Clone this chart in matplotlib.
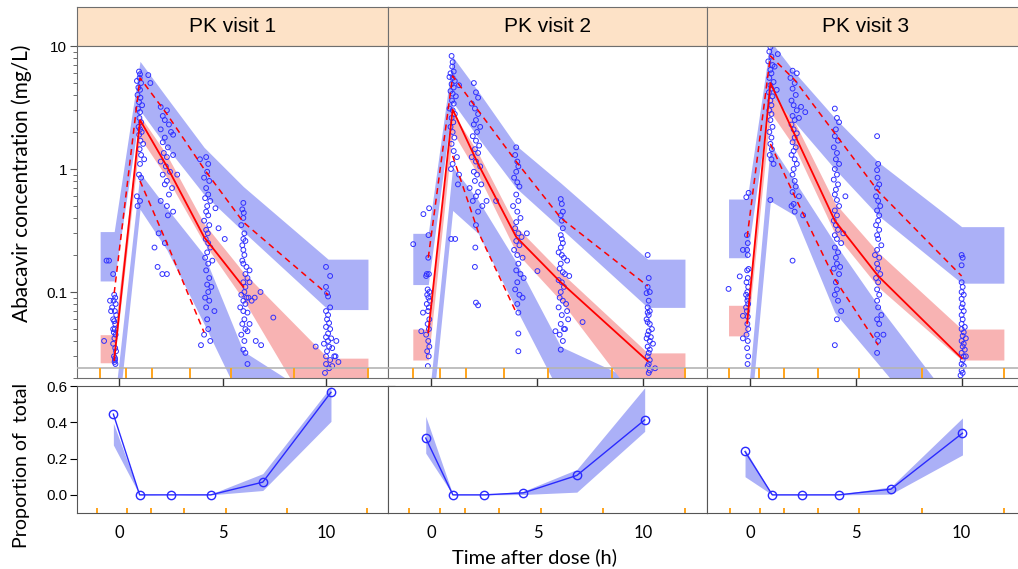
import numpy as np
import matplotlib.pyplot as plt
from matplotlib.ticker import FixedLocator, LogLocator, NullFormatter

plt.rcParams['font.family'] = ['Liberation Sans', 'DejaVu Sans']
nan = np.nan

titles = ['PK visit 1', 'PK visit 2', 'PK visit 3']

# ---------------- PK visit 1 ----------------
v1_mid = [-0.25, 1.0, 2.3, 4.1, 6.0, 10.1]
v1_bins = [-0.93, 0.33, 1.6, 3.41, 5.41, 8.47, 12.03]
v1_obs95 = [0.098, 5.5, 2.8, 1.0, 0.37, 0.095]
v1_obs50 = [0.028, 2.5, 1.05, 0.28, 0.11, nan]
v1_obs5 = [nan, 0.8, 0.25, 0.047, nan, nan]
v1_hi95 = [0.31, 7.5, 3.8, 1.5, 0.72, 0.185]
v1_lo95 = [0.123, 3.0, 1.5, 0.62, 0.31, 0.072]
v1_hi50 = [0.045, 2.7, 1.3, 0.36, 0.145, 0.029]
v1_lo50 = [0.0266, 1.8, 0.85, 0.25, 0.087, 0.006]
v1_hi5 = [0.012, 0.93, 0.48, 0.2, 0.033, 0.012]
v1_lo5 = [0.005, 0.47, 0.22, 0.055, 0.012, 0.003]
v1_time = [-0.62, -0.5, -0.3, -0.25, -0.2, -0.28, -0.18, -0.35, -0.22, -0.15, -0.3, -0.25, -0.2, -0.22, -0.27,
           -0.18, -0.24, -0.3, -0.2, -0.16, -0.26, -0.21, -0.74, -0.45, -0.4, -0.3, -0.19, -0.23, -0.21,
           0.95, 1.0, 0.98, 0.85, 1.4, 1.05, 0.92, 1.0, 0.88, 1.02, 0.95, 1.1, 0.9, 1.0, 0.97, 1.05, 0.93, 1.0,
           1.08, 0.96, 1.02, 1.15, 0.98, 1.05, 1.2, 1.0, 0.95, 1.05, 0.85, 0.88, 1.0, 1.5,
           2.0, 2.3, 2.1, 2.2, 2.4, 2.0, 2.5, 2.2, 2.1, 2.35, 2.6, 2.15, 2.3, 2.0, 2.25, 2.45, 2.1, 2.3, 2.2,
           2.55, 2.4, 2.0, 2.3, 2.6, 2.35, 1.9, 2.2, 1.85, 2.3, 2.8, 2.6, 1.7, 2.08,
           4.2, 4.3, 4.25, 4.1, 4.35, 4.2, 4.3, 4.15, 4.4, 4.25, 4.2, 4.3, 4.1, 4.35, 4.2, 4.28, 4.18, 4.3, 4.4,
           4.25, 4.15, 4.3, 4.5, 4.2, 4.35, 4.25, 4.45, 4.3, 4.15, 4.35, 4.2, 4.6, 4.25, 4.3, 4.1, 3.95, 4.4,
           4.8, 5.1, 4.65, 3.9,
           6.0, 5.95, 6.02, 6.0, 5.9, 6.05, 6.0, 5.95, 6.1, 6.0, 6.05, 5.95, 6.0, 6.15, 6.3, 6.1, 6.2, 6.0, 6.3,
           6.1, 6.05, 5.9, 6.15, 6.25, 6.0, 6.4, 6.1, 5.85, 6.0, 6.2, 6.05, 5.95, 6.3, 6.1, 5.9, 6.2, 6.05, 6.0,
           6.55, 7.45, 6.6, 6.2, 6.1, 6.83, 6.86,
           10.0, 10.2, 10.0, 10.05, 10.1, 10.2, 10.0, 10.1, 10.05, 10.15, 10.0, 10.2, 10.1, 10.0, 10.25, 10.5,
           10.1, 9.9, 10.15, 10.3, 10.05, 9.5, 10.0, 10.4, 10.2, 10.6, 10.0, 10.3, 10.15, 10.46, 9.95]
v1_conc = [0.18, 0.18, 0.14, 0.095, 0.09, 0.085, 0.08, 0.075, 0.07, 0.065, 0.06, 0.058, 0.055, 0.05, 0.047,
           0.045, 0.042, 0.038, 0.035, 0.033, 0.03, 0.028, 0.04, 0.085, 0.07, 0.05, 0.026, 0.027, 0.029,
           6.2, 5.9, 5.5, 5.2, 5.8, 5.0, 4.6, 4.4, 4.0, 3.8, 3.5, 3.3, 3.1, 2.9, 2.6, 2.4, 2.2, 2.1,
           2.0, 1.9, 1.7, 1.6, 1.45, 1.3, 1.2, 1.1, 0.9, 0.85, 0.6, 0.5, 0.55, 5.0,
           3.2, 3.0, 2.7, 2.5, 2.3, 2.1, 2.0, 1.8, 1.65, 1.5, 1.9, 1.35, 1.25, 1.15, 1.05, 0.95, 0.9, 0.8, 0.75,
           0.7, 0.62, 0.55, 0.5, 0.45, 0.42, 0.3, 0.25, 0.16, 0.14, 0.9, 1.3, 0.23, 0.14,
           1.25, 1.1, 0.95, 0.85, 0.8, 0.7, 0.62, 0.58, 0.55, 0.5, 0.45, 0.42, 0.38, 0.35, 0.32, 0.3, 0.27, 0.25,
           0.23, 0.21, 0.19, 0.17, 0.18, 0.15, 0.13, 0.115, 0.11, 0.1, 0.09, 0.085, 0.075, 0.07, 0.06, 0.05,
           0.045, 0.037, 0.04, 0.33, 0.27, 0.48, 1.2,
           0.53, 0.47, 0.44, 0.4, 0.35, 0.3, 0.27, 0.24, 0.26, 0.22, 0.2, 0.18, 0.17, 0.16, 0.15, 0.14, 0.13,
           0.12, 0.12, 0.11, 0.1, 0.095, 0.09, 0.09, 0.085, 0.085, 0.08, 0.075, 0.07, 0.068, 0.06, 0.055,
           0.055, 0.05, 0.045, 0.048, 0.04, 0.034, 0.09, 0.062, 0.04, 0.026, 0.032, 0.1, 0.037,
           0.16, 0.135, 0.11, 0.098, 0.092, 0.075, 0.07, 0.065, 0.06, 0.056, 0.052, 0.05, 0.046, 0.043, 0.042,
           0.04, 0.04, 0.038, 0.036, 0.035, 0.033, 0.036, 0.03, 0.03, 0.028, 0.027, 0.026, 0.025, 0.024,
           0.03, 0.022]
v1_blq_t = [-0.29, 0.98, 2.5, 4.42, 6.94, 10.24]
v1_blq = [0.445, 0.0, 0.0, 0.0, 0.07, 0.565]
v1_blq_lo = [0.275, 0.0, 0.0, 0.0, 0.024, 0.405]
v1_blq_hi = [0.396, 0.003, 0.0, 0.004, 0.117, 0.597]
v1_blq_bins = [-1.1, 0.36, 1.55, 3.14, 5.14, 8.1, 12.0]

# ---------------- PK visit 2 ----------------
v2_mid = [-0.15, 1.0, 2.2, 4.0, 6.1, 10.2]
v2_bins = [-0.88, 0.38, 1.64, 3.44, 5.49, 8.53, 11.96]
v2_obs95 = [0.19, 5.7, 3.0, 1.15, 0.4, 0.112]
v2_obs50 = [0.047, 3.05, 1.1, 0.28, 0.12, 0.0275]
v2_obs5 = [nan, 1.28, 0.31, 0.068, nan, nan]
v2_hi95 = [0.30, 8.2, 4.3, 1.55, 0.77, 0.185]
v2_lo95 = [0.115, 3.5, 1.8, 0.7, 0.33, 0.075]
v2_hi50 = [0.05, 2.9, 1.35, 0.34, 0.145, 0.032]
v2_lo50 = [0.028, 2.0, 0.9, 0.21, 0.085, 0.010]
v2_hi5 = [0.012, 1.04, 0.56, 0.175, 0.036, 0.017]
v2_lo5 = [0.005, 0.46, 0.30, 0.073, 0.0145, 0.004]
v2_time = [-0.86, -0.38, -0.11, -0.14, -0.15, -0.22, -0.12, -0.25, -0.18, -0.1, -0.2, -0.14, -0.08, -0.22,
           -0.12, -0.16, -0.4, -0.48, -0.1, -0.18, -0.12, -0.25, -0.15, -0.1, -0.2, -0.13, -0.17,
           0.95, 1.0, 0.98, 0.9, 1.05, 0.85, 1.0, 1.1, 0.95, 1.3, 1.05, 0.9, 1.0, 1.15, 0.97, 1.05, 0.85, 1.0,
           1.1, 0.95, 1.03, 0.9, 1.0, 1.08, 0.95, 1.05, 1.2, 1.0, 0.92, 1.3, 0.93, 1.12, 1.25,
           2.0, 2.1, 2.2, 1.9, 2.05, 2.2, 2.1, 2.0, 2.3, 2.15, 1.95, 2.1, 2.25, 2.05, 2.2, 1.9, 2.1, 2.3, 2.0,
           2.15, 2.05, 2.35, 2.2, 2.1, 1.95, 2.4, 2.2, 2.1, 2.07, 2.05, 2.1, 2.2, 2.6, 1.8,
           4.0, 3.95, 4.05, 4.1, 4.0, 3.9, 4.05, 4.15, 4.0, 4.1, 3.85, 4.05, 4.2, 4.0, 3.95, 4.1, 4.25, 4.0,
           4.15, 3.9, 4.05, 4.3, 4.1, 4.0, 4.2, 4.35, 4.05, 3.95, 4.15, 4.3, 4.05, 4.1, 4.1, 4.1, 3.05, 5.0, 4.5,
           6.1, 6.15, 6.2, 6.1, 6.15, 6.2, 6.1, 6.15, 6.2, 6.1, 6.0, 6.15, 6.25, 6.4, 6.1, 6.05, 6.2, 6.3, 6.5,
           6.0, 6.15, 6.25, 6.1, 6.05, 6.2, 6.35, 6.0, 6.15, 6.45, 6.1, 6.25, 6.05, 6.3, 6.2, 5.85, 6.1, 7.13,
           6.4,
           10.2, 10.25, 10.2, 10.3, 10.15, 10.25, 10.2, 10.3, 10.2, 10.25, 10.15, 10.2, 10.3, 10.4, 10.25,
           10.2, 10.35, 10.15, 10.3, 10.45, 10.2, 10.3, 10.25, 10.2, 10.3, 10.25, 10.2, 10.3, 10.55, 10.25]
v2_conc = [0.245, 0.43, 0.48, 0.29, 0.19, 0.14, 0.14, 0.135, 0.105, 0.1, 0.095, 0.09, 0.085, 0.08,
           0.075, 0.07, 0.068, 0.048, 0.06, 0.055, 0.05, 0.045, 0.04, 0.036, 0.033, 0.03, 0.025,
           8.3, 7.4, 6.8, 6.0, 6.2, 5.6, 5.5, 5.2, 4.9, 4.8, 4.6, 4.3, 4.1, 3.9, 3.6, 3.4, 3.1, 3.0,
           2.8, 2.6, 2.4, 2.2, 2.0, 1.8, 1.6, 1.4, 1.25, 1.1, 1.0, 0.9, 0.27, 0.27, 0.75,
           5.0, 4.2, 3.8, 3.4, 3.1, 2.8, 2.5, 2.3, 2.2, 2.0, 1.85, 1.7, 1.55, 1.45, 1.35, 1.25, 1.15, 1.05, 0.95,
           0.9, 0.8, 0.75, 0.65, 0.6, 0.55, 0.5, 0.45, 0.35, 0.23, 0.16, 0.082, 0.078, 0.55, 0.7,
           1.5, 1.3, 1.15, 1.05, 0.95, 0.85, 0.78, 0.72, 0.62, 0.55, 0.5, 0.45, 0.4, 0.37, 0.33, 0.3, 0.28, 0.26,
           0.24, 0.22, 0.2, 0.19, 0.17, 0.15, 0.14, 0.13, 0.12, 0.105, 0.095, 0.09, 0.08, 0.068, 0.046, 0.033,
           0.55, 0.148, 0.3,
           0.57, 0.52, 0.45, 0.42, 0.38, 0.33, 0.29, 0.27, 0.25, 0.23, 0.21, 0.2, 0.19, 0.18, 0.17, 0.155, 0.145,
           0.14, 0.135, 0.125, 0.12, 0.11, 0.1, 0.09, 0.085, 0.08, 0.075, 0.065, 0.06, 0.055, 0.05, 0.045, 0.05,
           0.04, 0.048, 0.034, 0.057, 0.07,
           0.2, 0.13, 0.11, 0.1, 0.098, 0.085, 0.075, 0.07, 0.068, 0.065, 0.06, 0.057, 0.055, 0.05, 0.048,
           0.045, 0.043, 0.042, 0.04, 0.038, 0.036, 0.034, 0.032, 0.03, 0.028, 0.026, 0.025, 0.023, 0.024, 0.022]
v2_blq_t = [-0.27, 1.01, 2.49, 4.34, 6.86, 10.06]
v2_blq = [0.313, 0.0, 0.0, 0.011, 0.107, 0.413]
v2_blq_lo = [0.23, 0.0, 0.0, 0.002, 0.015, 0.35]
v2_blq_hi = [0.433, 0.002, 0.002, 0.02, 0.14, 0.59]
v2_blq_bins = [-1.06, 0.40, 1.58, 3.2, 5.15, 8.1, 11.98]

# ---------------- PK visit 3 ----------------
v3_mid = [-0.15, 0.95, 2.1, 4.0, 6.05, 10.0]
v3_bins = [-1.03, 0.42, 1.58, 3.19, 5.15, 8.13, 12.0]
v3_obs95 = [0.28, 8.3, 5.3, 1.95, 0.66, 0.135]
v3_obs50 = [0.056, 5.0, 1.9, 0.38, 0.135, 0.029]
v3_obs5 = [nan, 1.6, 0.6, 0.127, 0.037, nan]
v3_hi95 = [0.57, 11.0, 6.1, 2.6, 1.14, 0.34]
v3_lo95 = [0.19, 4.0, 2.4, 1.0, 0.42, 0.118]
v3_hi50 = [0.078, 4.0, 2.4, 0.53, 0.21, 0.05]
v3_lo50 = [0.044, 2.9, 1.5, 0.3, 0.11, 0.028]
v3_hi5 = [0.012, 1.6, 0.8, 0.25, 0.078, 0.010]
v3_lo5 = [0.005, 0.55, 0.42, 0.068, 0.026, 0.004]
v3_time = [-1.03, -0.19, -0.08, -0.16, -0.35, -0.12, -0.15, -0.12, -0.5, -0.15, -0.08, -0.12, -0.18, -0.1,
           -0.14, -0.2, -0.12, -0.35, -0.14, -0.1, -0.2, -0.16, -0.12, -0.35, -0.14, -0.1, -0.18, -0.12,
           -0.15, -0.1, -0.13,
           0.95, 0.9, 1.0, 0.85, 1.05, 0.95, 1.0, 0.9, 1.1, 0.95, 1.0, 0.88, 1.05, 0.95, 1.0, 0.9, 1.0, 0.95,
           1.05, 0.9, 1.0, 0.95, 1.02, 0.92, 1.0, 1.1, 0.95, 1.3, 1.25, 1.15,
           2.0, 2.2, 1.9, 2.1, 2.0, 2.15, 1.95, 2.05, 2.2, 2.0, 2.1, 2.3, 1.95, 2.05, 2.2, 2.1, 2.0, 2.15, 2.05,
           1.95, 2.1, 2.2, 2.05, 2.0, 2.1, 2.15, 2.0, 2.3, 2.05, 2.1, 2.5, 1.95, 2.0, 2.4, 2.6,
           4.0, 4.1, 4.2, 4.05, 4.0, 4.15, 3.95, 4.1, 4.05, 4.2, 4.0, 4.1, 3.95, 4.15, 4.05, 4.0, 4.1, 4.2, 4.0,
           4.1, 3.95, 4.05, 4.15, 4.0, 4.1, 4.3, 4.0, 4.15, 4.05, 4.1, 3.95, 4.2, 4.05, 4.1, 4.0, 4.15, 4.3,
           4.1, 4.0, 4.5, 4.4, 4.25,
           6.0, 6.05, 6.0, 6.02, 6.1, 6.0, 5.95, 6.05, 6.15, 6.0, 6.1, 6.05, 5.95, 6.1, 6.0, 6.05, 6.2, 6.0,
           5.9, 6.1, 6.0, 6.05, 6.15, 5.95, 6.05, 6.0, 6.1, 6.0, 6.05, 6.2, 6.0, 6.1, 6.0, 6.05, 6.0, 6.3,
           10.0, 10.05, 10.0, 10.0, 10.05, 10.0, 10.1, 10.0, 10.05, 10.0, 10.1, 10.0, 10.05, 10.0, 10.15, 10.0,
           10.1, 10.05, 10.2, 10.0, 10.1, 10.05, 10.15, 10.0, 10.1, 10.05, 10.0, 10.1, 10.0, 10.05, 10.2, 9.95]
v3_conc = [0.106, 0.59, 0.64, 0.29, 0.22, 0.25, 0.22, 0.2, 0.134, 0.15, 0.154, 0.13, 0.12, 0.11, 0.1,
           0.095, 0.09, 0.064, 0.085, 0.08, 0.075, 0.07, 0.063, 0.042, 0.055, 0.05, 0.045, 0.04, 0.035, 0.03,
           0.026,
           9.8, 9.0, 8.2, 7.5, 7.0, 6.4, 6.0, 5.5, 5.1, 4.8, 4.5, 4.2, 3.9, 3.6, 3.3, 3.0, 2.8, 2.5,
           2.2, 2.0, 1.8, 1.6, 1.45, 1.3, 1.2, 1.1, 0.56, 8.6, 4.4, 6.8,
           6.3, 6.0, 5.5, 5.0, 4.5, 4.0, 3.6, 3.3, 3.0, 2.7, 2.5, 2.6, 2.3, 2.1, 1.95, 1.8, 1.65, 1.5, 1.4,
           1.3, 1.2, 1.1, 1.0, 0.9, 0.8, 0.72, 0.65, 0.6, 0.52, 0.45, 0.42, 0.5, 0.18, 3.2, 2.9,
           3.1, 2.6, 2.4, 2.1, 1.85, 1.7, 1.5, 1.35, 1.2, 1.1, 1.0, 0.9, 0.82, 0.75, 0.68, 0.62, 0.56, 0.5, 0.46,
           0.42, 0.38, 0.35, 0.32, 0.29, 0.27, 0.25, 0.23, 0.21, 0.19, 0.17, 0.155, 0.14, 0.12, 0.105, 0.095,
           0.085, 0.07, 0.06, 0.037, 0.6, 0.3, 0.16,
           1.85, 1.1, 0.98, 0.85, 0.75, 0.7, 0.6, 0.55, 0.5, 0.46, 0.42, 0.38, 0.35, 0.32, 0.29, 0.27, 0.24,
           0.22, 0.2, 0.19, 0.17, 0.155, 0.14, 0.13, 0.12, 0.105, 0.095, 0.085, 0.075, 0.065, 0.06, 0.055,
           0.045, 0.04, 0.032, 0.045,
           0.2, 0.19, 0.165, 0.12, 0.11, 0.1, 0.095, 0.088, 0.08, 0.075, 0.07, 0.065, 0.06, 0.055, 0.052, 0.05,
           0.047, 0.044, 0.042, 0.04, 0.038, 0.036, 0.034, 0.032, 0.03, 0.028, 0.026, 0.025, 0.023, 0.022,
           0.03, 0.021]
v3_blq_t = [-0.25, 1.04, 2.43, 4.18, 6.65, 10.04]
v3_blq = [0.239, 0.0, 0.0, 0.0, 0.031, 0.34]
v3_blq_lo = [0.10, 0.0, 0.0, 0.0, 0.004, 0.22]
v3_blq_hi = [0.25, 0.002, 0.002, 0.003, 0.044, 0.424]
v3_blq_bins = [-0.98, 0.46, 1.58, 3.21, 5.16, 8.14, 11.99]

lloq_line = 0.0241

panels = [
    dict(mid=v1_mid, bins=v1_bins, o95=v1_obs95, o50=v1_obs50, o5=v1_obs5, hi95=v1_hi95, lo95=v1_lo95,
         hi50=v1_hi50, lo50=v1_lo50, hi5=v1_hi5, lo5=v1_lo5, t=v1_time, c=v1_conc,
         bt=v1_blq_t, b=v1_blq, blo=v1_blq_lo, bhi=v1_blq_hi, bbins=v1_blq_bins),
    dict(mid=v2_mid, bins=v2_bins, o95=v2_obs95, o50=v2_obs50, o5=v2_obs5, hi95=v2_hi95, lo95=v2_lo95,
         hi50=v2_hi50, lo50=v2_lo50, hi5=v2_hi5, lo5=v2_lo5, t=v2_time, c=v2_conc,
         bt=v2_blq_t, b=v2_blq, blo=v2_blq_lo, bhi=v2_blq_hi, bbins=v2_blq_bins),
    dict(mid=v3_mid, bins=v3_bins, o95=v3_obs95, o50=v3_obs50, o5=v3_obs5, hi95=v3_hi95, lo95=v3_lo95,
         hi50=v3_hi50, lo50=v3_lo50, hi5=v3_hi5, lo5=v3_lo5, t=v3_time, c=v3_conc,
         bt=v3_blq_t, b=v3_blq, blo=v3_blq_lo, bhi=v3_blq_hi, bbins=v3_blq_bins),
]

W, H = 1018, 569
fig = plt.figure(figsize=(W / 100, H / 100), dpi=100)


def frac(l, t, r, b):
    # pixel box (top-left origin) -> figure fraction
    return [l / W, 1 - b / H, (r - l) / W, (b - t) / H]


def stretch(mid, bins, vals):
    # first and last bins are drawn flat out to the bin edges
    return [bins[0]] + list(mid) + [bins[-1]], [vals[0]] + list(vals) + [vals[-1]]


blue = '#abb0f7'
pink = '#f8b3b3'
orange = '#ffa41c'
frame = '#6e6e6e'
ptblue = '#3030ff'

lefts = [77, 388, 707]
rights = [388, 707, 1025]
xlim = (-2.05, 13.0)

for i, p in enumerate(panels):
    l, r = lefts[i], rights[i]

    # strip
    st = fig.add_axes(frac(l, 7, r, 46))
    st.set_facecolor('#fde2c7')
    st.set_xticks([])
    st.set_yticks([])
    for s in st.spines.values():
        s.set_color(frame)
    st.text(0.5, 0.5, titles[i], ha='center', va='center', fontsize=15, transform=st.transAxes)

    # concentration panel
    ax = fig.add_axes(frac(l, 46, r, 378))
    ax.set_yscale('log')
    ax.set_xlim(*xlim)
    ax.set_ylim(0.02, 10)

    x, lo = stretch(p['mid'], p['bins'], p['lo95'])
    _, hi = stretch(p['mid'], p['bins'], p['hi95'])
    ax.fill_between(x, lo, hi, color=blue, lw=0, zorder=1)
    x, lo = stretch(p['mid'], p['bins'], p['lo5'])
    _, hi = stretch(p['mid'], p['bins'], p['hi5'])
    ax.fill_between(x, lo, hi, color=blue, lw=0, zorder=1)
    x, lo = stretch(p['mid'], p['bins'], p['lo50'])
    _, hi = stretch(p['mid'], p['bins'], p['hi50'])
    ax.fill_between(x, lo, hi, color=pink, lw=0, zorder=1.5)

    ax.scatter(p['t'], p['c'], s=12, facecolors='none', edgecolors=ptblue, linewidths=0.7, zorder=2)

    ax.plot(p['mid'], p['o50'], color='red', lw=1.3, zorder=3)
    ax.plot(p['mid'], p['o95'], color='red', lw=1.1, ls=(0, (4, 3)), zorder=3)
    ax.plot(p['mid'], p['o5'], color='red', lw=1.1, ls=(0, (4, 3)), zorder=3)

    ax.axhline(lloq_line, color='#b4b4b4', lw=1.2, zorder=4)
    ax.vlines(p['bins'], 0.02, lloq_line, color=orange, lw=1.4, zorder=4)

    for s in ax.spines.values():
        s.set_color(frame)
    ax.xaxis.set_major_locator(FixedLocator([0, 5, 10]))
    ax.tick_params(axis='x', direction='out', length=6, width=1, labelbottom=False, color='#333333')
    ax.yaxis.set_major_locator(LogLocator(base=10, numticks=10))
    ax.yaxis.set_minor_locator(LogLocator(base=10, subs=np.arange(2, 10), numticks=10))
    ax.yaxis.set_minor_formatter(NullFormatter())
    if i == 0:
        ax.set_yticks([0.1, 1, 10])
        ax.set_yticklabels(['0.1', '1', '10'])
        ax.tick_params(axis='y', which='both', left=True, right=True, direction='out', labelsize=11,
                       pad=2, color='#555555')
    else:
        ax.tick_params(axis='y', which='both', left=False, right=True, labelleft=False, color='#888888')
    ax.tick_params(axis='y', which='major', length=5)
    ax.tick_params(axis='y', which='minor', length=3)

    # BLQ proportion panel
    bx = fig.add_axes(frac(l, 386, r, 513))
    bx.set_xlim(*xlim)
    bx.set_ylim(-0.1, 0.6)
    bx.fill_between(p['bt'], p['blo'], p['bhi'], color=blue, lw=0, zorder=1)
    bx.plot(p['bt'], p['b'], color='#2a2aff', lw=1.0, marker='o', ms=6, mfc='none', mec='#2a2aff',
            mew=1.0, zorder=3)
    bx.vlines(p['bbins'], -0.1, -0.075, color=orange, lw=1.4, zorder=4)
    for s in bx.spines.values():
        s.set_color('#555555')
    bx.set_xticks([0, 5, 10])
    bx.set_xticklabels(['0', '5', '10'], family=['Lato', 'DejaVu Sans'], fontsize=12)
    bx.tick_params(axis='x', length=0, pad=9)
    bx.set_yticks([0.0, 0.2, 0.4, 0.6])
    if i == 0:
        bx.set_yticklabels(['0.0', '0.2', '0.4', '0.6'])
        bx.tick_params(axis='y', direction='out', length=5, labelsize=11, pad=2, right=True)
    else:
        bx.tick_params(axis='y', left=False, labelleft=False, right=True, length=3, color='#888888')

fig.text(22 / W, 1 - 183 / H, 'Abacavir concentration (mg/L)', rotation=90, ha='center', va='center',
         fontsize=15, family=['Lato', 'DejaVu Sans'])
fig.text(22 / W, 1 - 465 / H, 'Proportion of  total', rotation=90, ha='center', va='center',
         fontsize=14, family=['Lato', 'DejaVu Sans'])
fig.text(534 / W, 1 - 557 / H, 'Time after dose (h)', ha='center', va='center',
         fontsize=14.5, family=['Lato', 'DejaVu Sans'])

fig.savefig('out.png', dpi=100)
